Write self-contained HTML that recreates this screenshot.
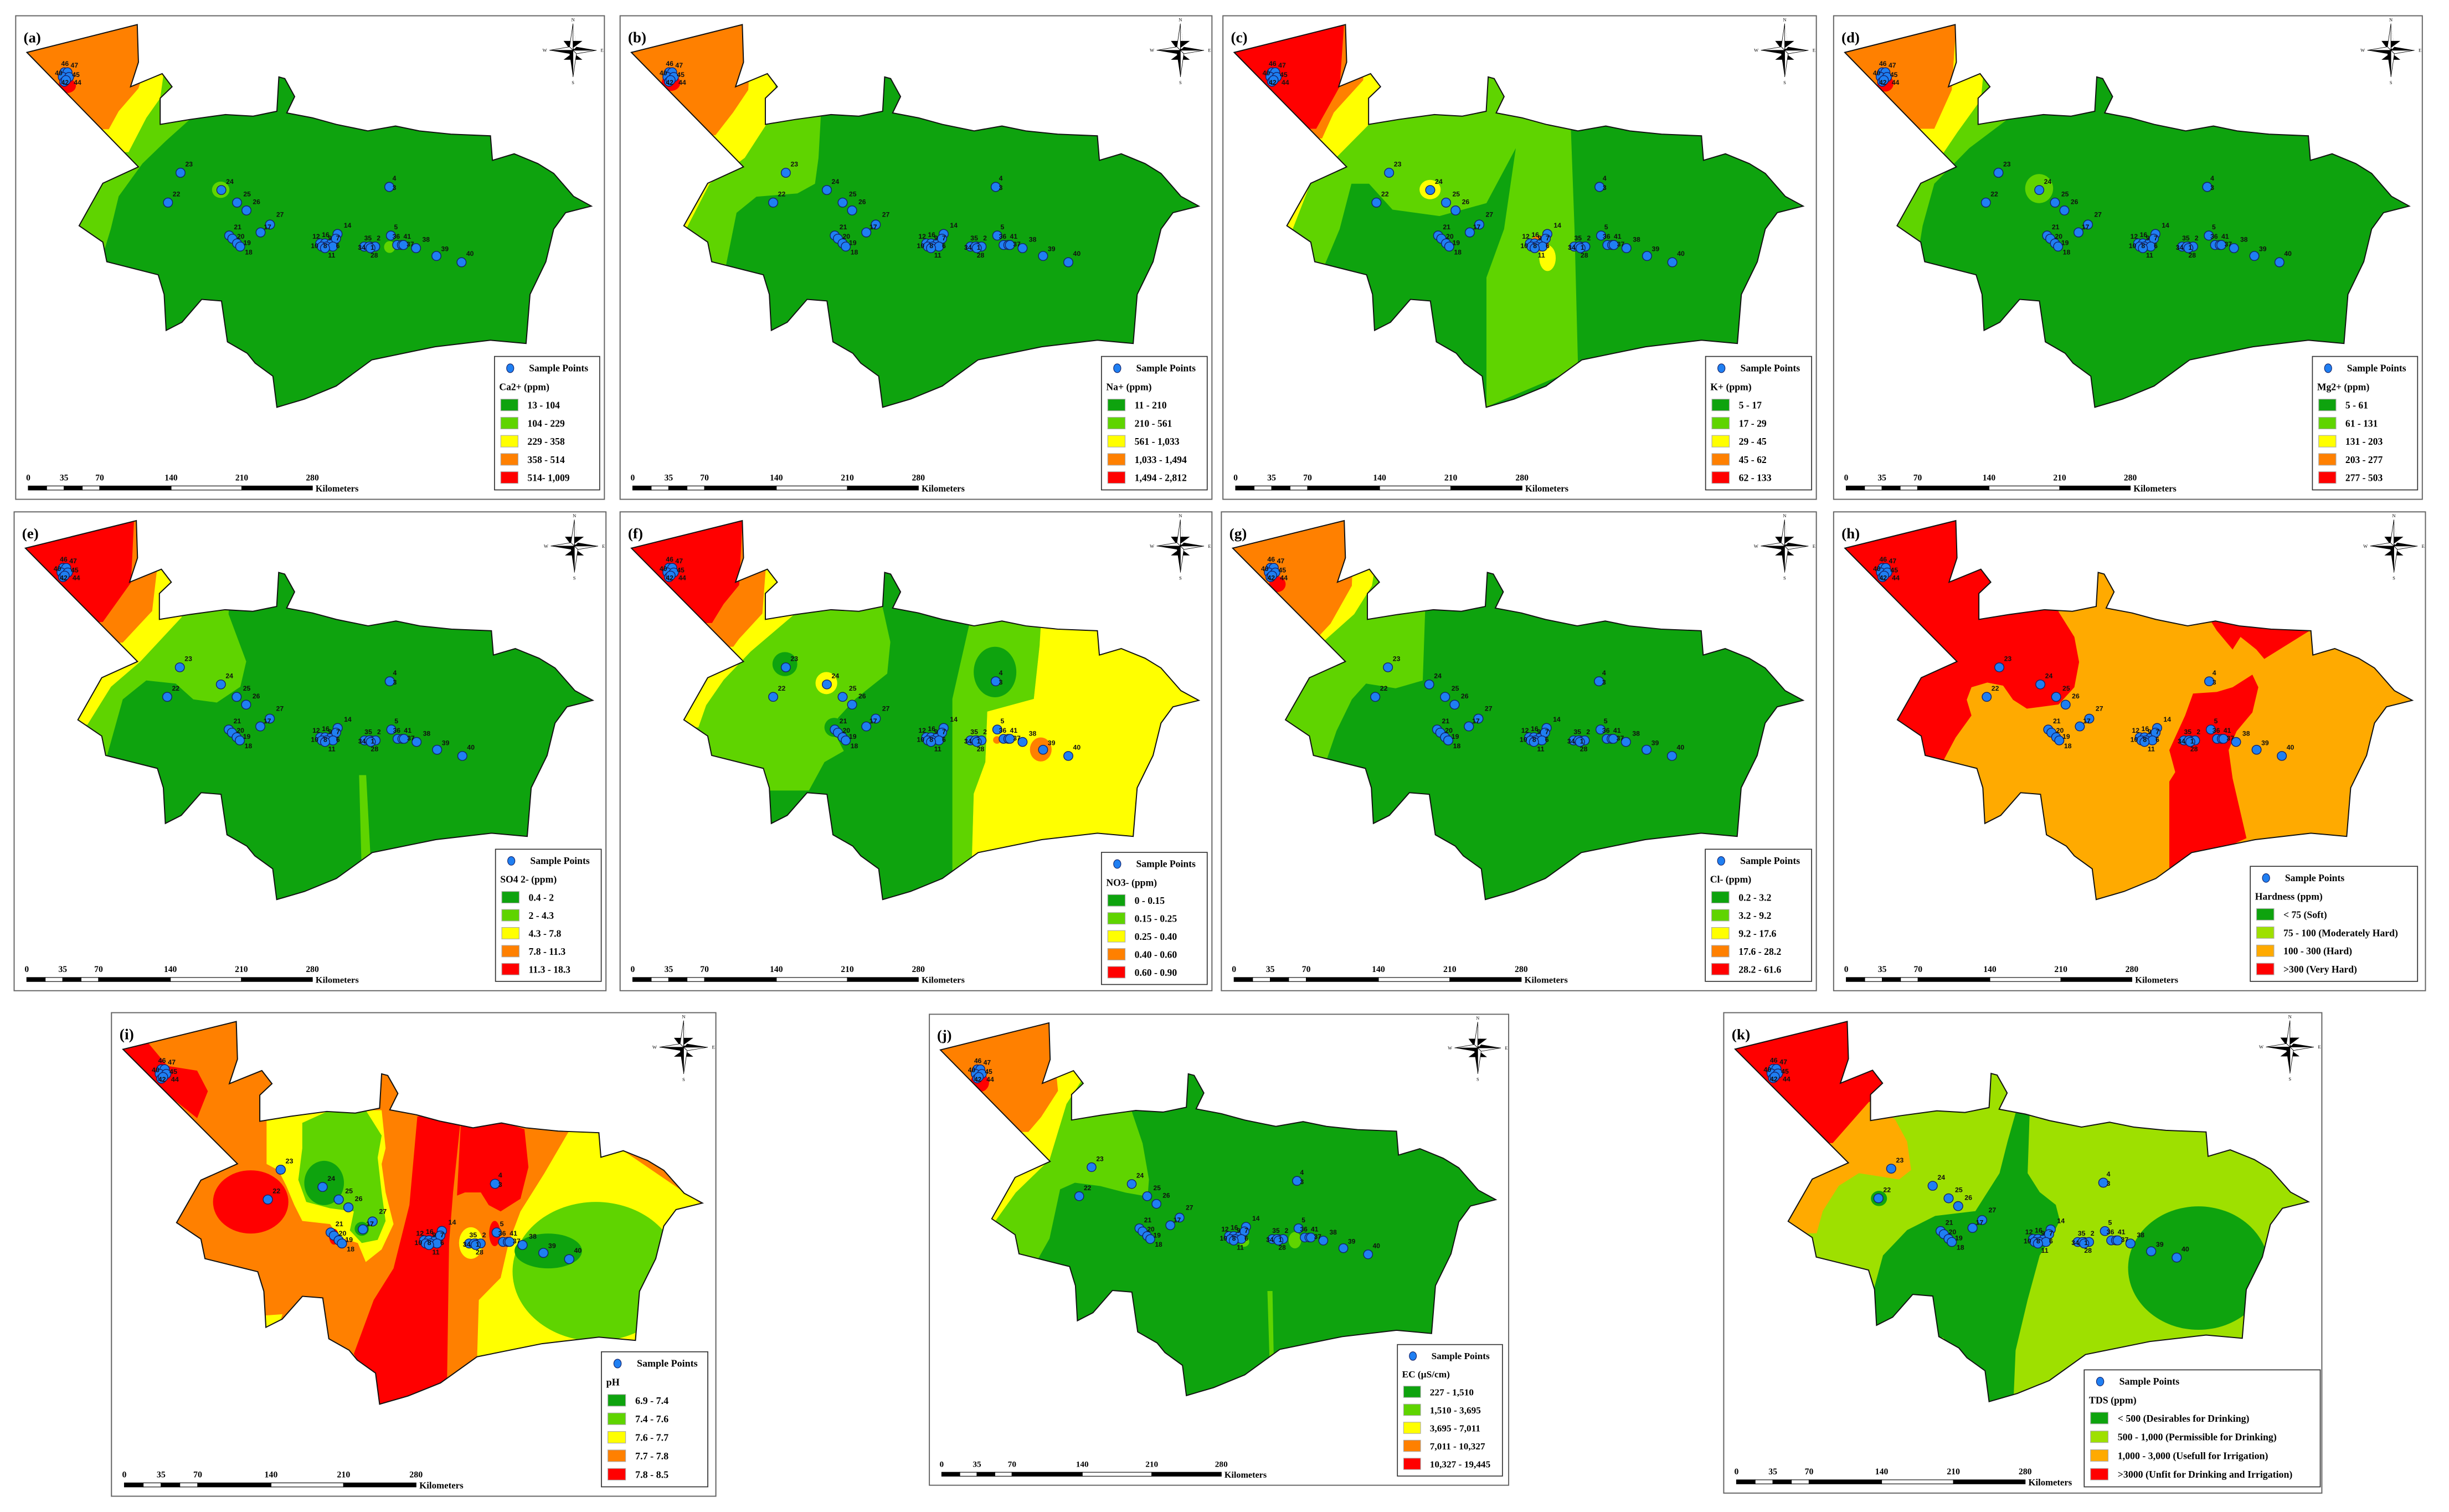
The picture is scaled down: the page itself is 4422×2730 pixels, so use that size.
<!DOCTYPE html>
<html><head><meta charset="utf-8"><style>
html,body{margin:0;padding:0;background:#fff;}
svg{display:block;}
</style></head><body>
<svg id="fig" xmlns="http://www.w3.org/2000/svg" width="4422" height="2730" viewBox="0 0 1560 963">
<rect x="0" y="0" width="1560" height="963" fill="#fff"/>
<defs><clipPath id="mapclip" clipPathUnits="userSpaceOnUse"><polygon id="clipPoly" points=""/></clipPath></defs>
</svg>
<script>
const NS='http://www.w3.org/2000/svg';
const svg=document.getElementById('fig');
const C={dg:'#0ea30e',lg:'#5fd400',y:'#ffff00',o:'#ff8000',r:'#ff0000',ho:'#ffaa00',kg:'#9ee000'};

// ---- data arrays ----
const outlineRaw=[68,160,347,75,350,190,330,265,380,240,410,225,435,265,405,300,405,380,480,365,570,350,640,355,700,340,705,235,720,240,745,295,725,345,790,360,850,380,930,400,1000,385,1060,400,1140,410,1240,415,1245,490,1300,470,1360,500,1400,530,1450,600,1495,630,1430,650,1400,700,1380,800,1340,900,1330,1050,1240,1040,1100,1060,940,1100,850,1180,770,1220,700,1245,690,1150,645,1110,625,1080,575,1045,560,920,510,915,460,985,420,1010,415,900,400,840,270,800,260,740,200,690,260,560,350,510];
const pointIds=['23','24','22','25','26','27','17','21','20','19','18','14','12','16','9','7','10','8','6','11','35','2','34','1','28','4','3','5','36','41','37','38','39','40','46','47','43','45','42','44'];
const pointX=[115,141,107,151,157,172,166,146,148,151,153,215,204,207,211,214,205,208,212,207,236,239,232,235,236,248,248,249,253,256,257,265,278,294,41,43,40,44,41,42];
const pointY=[110,121,129,129,134,143,148,150,152,155,157,149,155,155,155,152,157,157,157,158,157,157,157,157,158,119,119,150,156,156,156,158,163,167,46,46,49,49,52,51];
const labelTxt=['23','24','22','25','26','27','17','21','20','19','18','14','12','16','9','7','10','8','6','11','35','2','34','1','28','4','3','5','36','41','37','38','39','40','46','47','40','45','42','44'];
const labelX=[118,144,110,155,161,176,168,149,151,155,156,219,199,205,209,214,198,206,214,209,232,240,228,236,236,250,250,251,250,257,259,269,281,297,39,45,35,46,39,47];
const labelY=[106,117,125,125,130,138,146,146,152,156,162,145,152,151,153,153,158,158,158,164,153,153,159,159,164,115,121,146,152,152,157,154,160,163,42,43,48,49,54,54];

const panels=[
 {id:'a',box:[10,10,375,308],conv:'A',base:C.dg,title:'Ca2+ (ppm)',ent:['13 - 104','104 - 229','229 - 358','358 - 514','514- 1,009'],cols:[C.dg,C.lg,C.y,C.o,C.r],leg:[315,227,382,312],
  zones:[{c:C.lg,p:[0,0,500,0,480,365,420,430,360,500,300,600,280,700,265,760,0,760]},{c:C.y,p:[0,0,440,0,405,300,370,360,325,465,0,465]},{c:C.o,p:[0,0,420,0,350,270,300,340,275,395,0,395]},{c:C.r,e:[170,262,22,22]},{c:C.lg,e:[558,580,22,25]},{c:C.lg,e:[985,755,14,18]}]},
 {id:'b',box:[395,10,377,308],conv:'Z7_0',base:C.dg,title:'Na+ (ppm)',ent:['11 - 210','210 - 561','561 - 1,033','1,033 - 1,494','1,494 - 2,812'],cols:[C.dg,C.lg,C.y,C.o,C.r],leg:[315,227,382,312],
  zones:[{c:C.lg,p:[0,0,175,0,170,350,168,480,165,560,150,590,115,600,98,650,88,830,0,830]},{c:C.y,p:[0,0,135,0,130,340,105,480,75,560,55,700,0,700]},{c:C.o,p:[0,0,112,0,108,270,95,340,80,410,0,410]},{c:C.r,e:[42,248,8,25]}]},
 {id:'c',box:[779,10,378,308],conv:'Z7_517',base:C.dg,title:'K+ (ppm)',ent:['5 - 17','17 - 29','29 - 45','45 - 62','62 - 133'],cols:[C.dg,C.lg,C.y,C.o,C.r],leg:[315,227,382,312],
  zones:[{c:C.lg,p:[517,0,808,0,815,700,818,1130,740,1250,740,850,755,700,765,450,740,620,700,660,660,640,640,560,625,560,615,700,600,830,517,830]},{c:C.y,p:[517,0,655,0,650,340,620,450,590,560,575,700,517,700]},{c:C.o,p:[517,0,640,0,635,240,610,340,600,420,517,420]},{c:C.r,p:[517,0,620,0,615,260,595,390,517,390]},{c:C.y,e:[792,790,7,40]},{c:C.o,e:[785,745,8,25]},{c:C.y,e:[692,578,9,30]}]},
 {id:'d',box:[1168,10,375,308],conv:'Z7_1035',base:C.dg,title:'Mg2+ (ppm)',ent:['5 - 61','61 - 131','131 - 203','203 - 277','277 - 503'],cols:[C.dg,C.lg,C.y,C.o,C.r],leg:[315,227,382,312],
  zones:[{c:C.lg,p:[1035,0,1190,0,1185,355,1150,450,1120,560,1110,690,1105,800,1035,800]},{c:C.y,p:[1035,0,1168,0,1160,300,1140,400,1125,480,1035,480]},{c:C.o,p:[1035,0,1140,0,1135,270,1120,390,1035,390]},{c:C.r,e:[1078,250,7,25]},{c:C.lg,e:[1210,575,12,45]}]},
 {id:'e',box:[9,326,377,305],conv:'Z8_0',base:C.dg,title:'SO4 2- (ppm)',ent:['0.4 - 2','2 - 4.3','4.3 - 7.8','7.8 - 11.3','11.3 - 18.3'],cols:[C.dg,C.lg,C.y,C.o,C.r],leg:[315,227,382,312],
  zones:[{c:C.lg,p:[0,0,200,0,195,330,210,480,205,560,185,610,165,600,150,550,125,540,105,600,90,800,0,800]},{c:C.y,p:[0,0,162,0,155,340,120,480,95,560,75,680,0,680]},{c:C.o,p:[0,0,140,0,130,320,105,420,0,420]},{c:C.r,p:[0,0,115,0,112,230,88,355,0,355]},{c:C.lg,p:[306,840,312,840,316,1120,308,1120]}]},
 {id:'f',box:[395,326,377,305],conv:'F',base:C.dg,title:'NO3- (ppm)',ent:['0 - 0.15','0.15 - 0.25','0.25 - 0.40','0.40 - 0.60','0.60 - 0.90'],cols:[C.dg,C.lg,C.y,C.o,C.r],leg:[315,229,382,314],
  zones:[{c:C.lg,p:[0,0,680,0,670,310,690,420,682,520,600,600,555,660,545,705,570,765,520,800,480,890,0,890]},{c:C.y,p:[0,0,445,0,440,335,330,450,260,540,215,620,195,690,0,690]},{c:C.o,p:[0,0,380,0,360,330,300,410,285,435,0,435]},{c:C.r,p:[0,0,310,0,300,240,260,300,230,360,0,360]},{c:C.dg,e:[418,490,32,38]},{c:C.y,e:[525,550,28,35]},{c:C.dg,e:[545,690,25,30]},{c:C.lg,p:[900,330,1085,330,1075,430,1060,600,940,640,935,800,905,900,900,1130,850,1150,850,600]},{c:C.dg,e:[960,515,55,80]},{c:C.y,p:[1080,330,1700,330,1700,1300,900,1300,900,1120,905,900,935,800,940,640,1060,600,1075,430]},{c:C.o,e:[1078,760,28,38]},{c:C.o,e:[965,730,10,12]}]},
 {id:'g',box:[778,326,379,305],conv:'Z8_1035',base:C.dg,title:'Cl- (ppm)',ent:['0.2 - 3.2','3.2 - 9.2','9.2 - 17.6','17.6 - 28.2','28.2 - 61.6'],cols:[C.dg,C.lg,C.y,C.o,C.r],leg:[315,227,382,312],
  zones:[{c:C.lg,p:[1035,0,1225,0,1220,320,1218,540,1195,565,1170,550,1158,600,1145,700,1135,810,1035,810]},{c:C.y,p:[1035,0,1185,0,1175,240,1160,330,1130,430,1110,520,1100,690,1035,690]},{c:C.o,p:[1035,0,1160,0,1158,240,1140,360,1130,400,1035,400]},{c:C.r,e:[1095,235,7,25]}]},
 {id:'h',box:[1168,326,377,305],conv:'H',base:C.ho,title:'Hardness (ppm)',ent:['< 75 (Soft)','75 - 100 (Moderately Hard)','100 - 300 (Hard)','>300 (Very Hard)'],cols:[C.dg,C.kg,C.ho,C.r],leg:[274,238,380,312],
  zones:[{c:C.r,p:[0,0,560,0,560,320,600,400,612,480,600,560,560,615,480,628,445,600,420,555,380,545,340,560,328,600,340,650,300,720,262,810,0,810]},{c:C.r,p:[940,340,1195,380,1080,470,1060,440,1020,400,1000,440,960,380]},{c:C.r,p:[1050,520,1065,560,1050,640,1010,700,990,760,1000,850,1035,1040,840,1150,840,860,855,830,840,760,880,650,900,580,960,575,1000,560]}]},
 {id:'i',box:[71,645,385,308],conv:'I',base:C.o,title:'pH',ent:['6.9 - 7.4','7.4 - 7.6','7.6 - 7.7','7.7 - 7.8','7.8 - 8.5'],cols:[C.dg,C.lg,C.y,C.o,C.r],leg:[314,226,380,312],
  zones:[{c:C.r,p:[30,100,100,85,150,160,225,175,252,240,225,325,160,260,30,200]},{c:C.r,e:[360,590,95,100]},{c:C.y,p:[400,330,560,300,690,300,700,420,690,470,700,560,720,660,690,740,650,780,630,720,580,700,560,660,490,650,470,600,450,540,430,490,400,470,400,400]},{c:C.lg,p:[490,340,560,300,650,300,690,380,680,450,690,560,700,650,680,710,640,720,610,680,620,620,560,610,500,590,480,520,490,420]},{c:C.dg,e:[545,530,50,70]},{c:C.dg,e:[640,675,18,22]},{c:C.r,p:[780,320,820,310,890,320,870,560,860,720,855,1150,800,1220,680,1230,620,1070,670,900,720,800,760,600]},{c:C.r,p:[890,330,1000,340,1050,360,1060,480,1040,580,990,620,960,600,940,560,900,560,880,570]},{c:C.y,p:[1165,360,1220,360,1500,600,1500,1100,1140,1030,1050,1050,930,1110,935,900,990,830,1010,720,1040,620,1100,500]},{c:C.lg,e:[1230,810,210,220]},{c:C.dg,e:[1110,745,85,55]},{c:C.y,e:[915,720,30,50]},{c:C.r,e:[975,690,14,40]},{c:C.r,e:[570,700,12,25]},{c:C.y,p:[385,950,440,945,430,985,390,985]}]},
 {id:'j',box:[592,646,369,300],conv:'J',base:C.dg,title:'EC (\u00b5S/cm)',ent:['227 - 1,510','1,510 - 3,695','3,695 - 7,011','7,011 - 10,327','10,327 - 19,445'],cols:[C.dg,C.lg,C.y,C.o,C.r],leg:[313,226,381,312],
  zones:[{c:C.lg,p:[0,0,575,0,575,355,600,450,615,560,612,612,560,600,500,580,440,570,405,590,395,650,380,740,345,820,0,820]},{c:C.y,p:[0,0,460,0,455,260,420,330,380,500,300,600,250,690,0,690]},{c:C.o,p:[0,0,378,0,400,290,360,370,330,415,0,415]},{c:C.r,e:[215,265,22,28]},{c:C.lg,p:[895,900,907,900,910,1110,900,1110]},{c:C.lg,e:[960,745,15,25]},{c:C.lg,e:[840,750,12,15]}]},
 {id:'k',box:[1098,645,381,306],conv:'K',base:C.kg,title:'TDS (ppm)',ent:['< 500 (Desirables for Drinking)','500 - 1,000 (Permissible for Drinking)','1,000 - 3,000 (Usefull for Irrigation)','>3000 (Unfit for Drinking and Irrigation)'],cols:[C.dg,C.kg,C.ho,C.r],leg:[236,239,384,314],
  zones:[{c:C.o2||C.ho,p:[0,0,400,0,400,300,440,330,470,400,480,490,450,520,400,510,350,500,300,540,260,620,245,690,0,690]},{c:C.r,p:[0,0,420,0,420,260,375,275,285,405,0,405]},{c:C.dg,p:[740,310,775,310,770,500,800,560,840,600,850,650,830,700,800,760,770,900,740,1060,735,1210,675,1220,630,1140,560,1020,400,1000,380,900,410,760,470,680,540,635,640,620,700,500,720,400]},{c:C.dg,e:[1195,800,175,195]},{c:C.dg,e:[400,580,20,24]}]}
];

// ---- converters to template coords ----
function mkZ(tx,kx,spy,ky){return (x,y)=>[(68+(x-tx)*kx)/3.969,(235+(y-spy)*ky)/4.8];}
function z7(off){return (x,y)=>[17+(x-off-8)*0.742,49+(y-230)*0.206];}
function z8(off){return (x,y)=>[17+(x-off-22)*0.745,49+(y-198)*0.203];}
const CONV={A:(x,y)=>[x/3.969,y/4.8],Z7_0:z7(0),Z7_517:z7(517),Z7_1035:z7(1035),Z8_0:z8(0),Z8_1035:z8(1035),
 F:mkZ(22,.975,200,.976),H:mkZ(20,.995,195,.971),I:mkZ(38,.977,185,.967),K:mkZ(42,1.0,185,.974),J:mkZ(122,1.087,238,1.03)};

function mk(tag,attrs,parent){const el=document.createElementNS(NS,tag);for(const k in attrs)el.setAttribute(k,attrs[k]);if(parent)parent.appendChild(el);return el;}
function pts(arr,cv){const o=[];for(let i=0;i<arr.length;i+=2){const p=cv(arr[i],arr[i+1]);o.push(p[0].toFixed(2)+','+p[1].toFixed(2));}return o.join(' ');}

const outlinePts=pts(outlineRaw,CONV.A);
document.getElementById('clipPoly').setAttribute('points',outlinePts);

panels.forEach(P=>{
  const [ox,oy,w,h]=P.box; const sx=w/375, sy=h/308;
  const g=mk('g',{transform:`translate(${ox-10*sx},${oy-10*sy}) scale(${sx},${sy})`},svg);
  
  
  const fr=mk('rect',{x:10,y:10,width:375,height:308,fill:'#fff',stroke:'#666','stroke-width':0.7},g);
  
  
  const base=mk('polygon',{points:outlinePts,fill:P.base},g);
  
  
  const zg=mk('g',{'clip-path':'url(#mapclip)'},g);
  
  
  const cv=CONV[P.conv];
  P.zones.forEach(z=>{
    let el;
    if(z.p){el=mk('polygon',{points:pts(z.p,cv),fill:z.c},zg);}
    else{const c0=cv(z.e[0],z.e[1]),cx=cv(z.e[0]+z.e[2],z.e[1]),cy=cv(z.e[0],z.e[1]+z.e[3]);
      el=mk('ellipse',{cx:c0[0],cy:c0[1],rx:Math.abs(cx[0]-c0[0]),ry:Math.abs(cy[1]-c0[1]),fill:z.c},zg);}
    
    
  });
  const ol=mk('polygon',{points:outlinePts,fill:'none',stroke:'#111','stroke-width':0.7},g);
  
  
  // sample points
  pointX.forEach((x,i)=>{
    const c=mk('circle',{cx:x,cy:pointY[i],r:2.9,fill:'#1f7ff2',stroke:'#14226a','stroke-width':0.5},g);
    
    
  });
  labelTxt.forEach((t,i)=>{
    const tx=mk('text',{x:labelX[i],y:labelY[i],'font-family':'Liberation Sans, sans-serif','font-weight':'bold','font-size':4.3,fill:'#111'},g);
    tx.textContent=t;
    
    
  });
  // panel letter
  const pl=mk('text',{x:15,y:27,'font-family':'Liberation Serif, serif','font-weight':'bold','font-size':9.5,fill:'#000'},g);
  pl.textContent='('+P.id+')';
  
  
  // compass
  const cg=mk('g',{transform:'translate(365,32)'},g);
  
  
  mk('polygon',{points:'0,-17 2.2,-2.2 15,0 2.2,2.2 0,17 -2.2,2.2 -15,0 -2.2,-2.2',fill:'#000'},cg);
  mk('polygon',{points:'0,-17 0,0 2.2,-2.2 M',fill:'#fff'},cg);
  mk('polygon',{points:'6,-6 1.5,0 0,-1.5 6,-6 -6,-6 -1.5,0 0,1.5 -6,6 6,6 0,1.5 1.5,0',fill:'#000'},cg);
  mk('polygon',{points:'0,-17 0,0 -2.2,-2.2',fill:'#fff',stroke:'#000','stroke-width':0.3},cg);
  mk('polygon',{points:'15,0 0,0 2.2,2.2',fill:'#fff',stroke:'#000','stroke-width':0.3},cg);
  mk('polygon',{points:'0,17 0,0 2.2,2.2',fill:'#fff',stroke:'#000','stroke-width':0.3},cg);
  mk('polygon',{points:'-15,0 0,0 -2.2,-2.2',fill:'#fff',stroke:'#000','stroke-width':0.3},cg);
  [['N',0,-18.5],['S',0,21.5],['W',-18,1],['E',18.5,1]].forEach(a=>{const t=mk('text',{x:a[1],y:a[2],'font-size':3,'text-anchor':'middle','font-family':'Liberation Serif, serif'},cg);t.textContent=a[0];});
  // scale bar
  const sg=mk('g',{},g);
  
  
  const sb=[18,29.7,40.8,52.4,63.5,109,154,199];
  for(let i=0;i<sb.length-1;i++){mk('rect',{x:sb[i],y:309.5,width:sb[i+1]-sb[i],height:2.6,fill:i%2?'#fff':'#000',stroke:'#000','stroke-width':0.4},sg);}
  [['0',18],['35',40.8],['70',63.5],['140',109],['210',154],['280',199]].forEach(a=>{const t=mk('text',{x:a[1],y:306,'font-size':5.5,'text-anchor':'middle','font-weight':'bold','font-family':'Liberation Serif, serif'},sg);t.textContent=a[0];});
  const km=mk('text',{x:201,y:313,'font-size':5.8,'font-weight':'bold','font-family':'Liberation Serif, serif'},sg);
  km.textContent='Kilometers';
  // legend
  const [lx0,ly0,lx1,ly1]=P.leg;
  const lg=mk('g',{},g);
  
  
  mk('rect',{x:lx0,y:ly0,width:lx1-lx0,height:ly1-ly0,fill:'#fff',stroke:'#333','stroke-width':0.6},lg);
  const n=P.ent.length; const step=(ly1-ly0-33)/(n-0.5);
  mk('ellipse',{cx:lx0+10,cy:ly0+7.5,rx:2.3,ry:2.8,fill:'#1f7ff2',stroke:'#14226a','stroke-width':0.4},lg);
  const fs=6.2;
  const sp=mk('text',{x:lx0+22,y:ly0+9.5,'font-size':fs,'font-weight':'bold','font-family':'Liberation Serif, serif'},lg);
  sp.textContent='Sample Points';
  const tt=mk('text',{x:lx0+3,y:ly0+21.5,'font-size':fs,'font-weight':'bold','font-family':'Liberation Serif, serif'},lg);
  tt.textContent=P.title;
  P.ent.forEach((e,i)=>{
    const cy=ly0+31+i*step;
    const sw=mk('rect',{x:lx0+4,y:cy-3.8,width:11,height:7.4,fill:P.cols[i],stroke:'#aaa','stroke-width':0.4},lg);
    
    
    const t=mk('text',{x:lx0+21,y:cy+2.2,'font-size':fs,'font-weight':'bold','font-family':'Liberation Serif, serif'},lg);
    t.textContent=e;
    
    
  });
});
</script>
</body></html>
